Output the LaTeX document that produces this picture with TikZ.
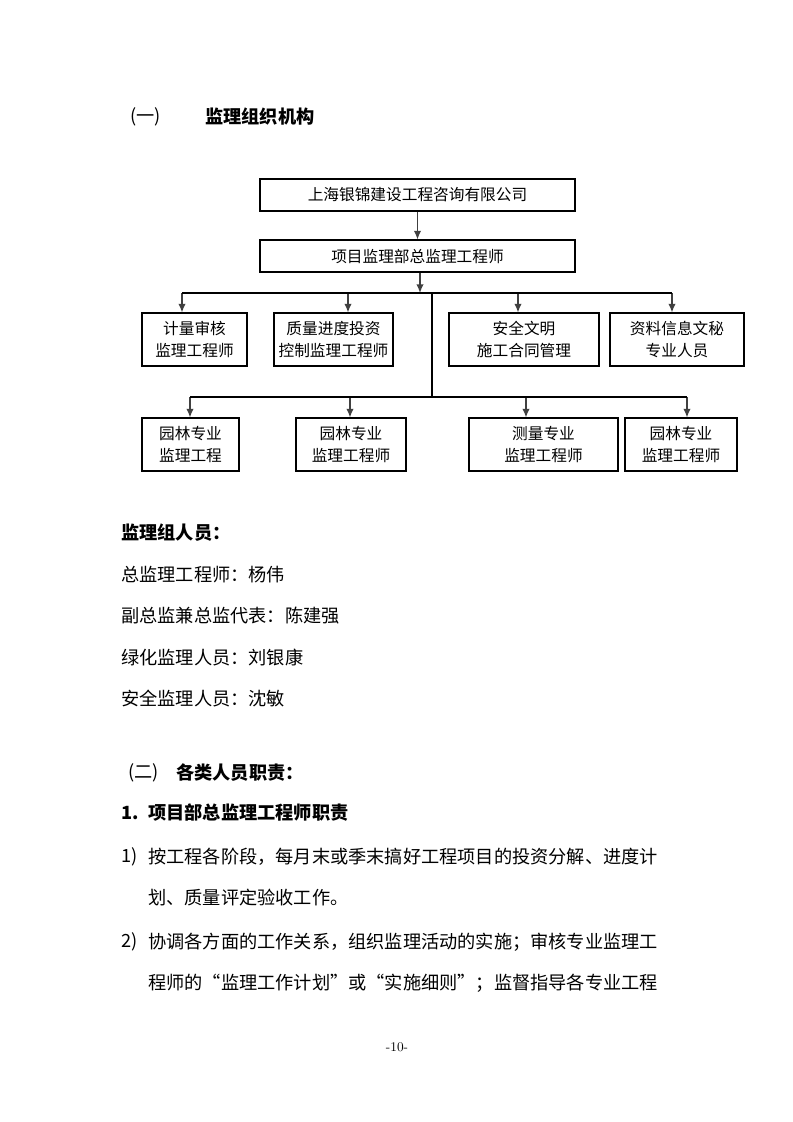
\documentclass[tikz,border=0pt]{standalone}
\usepackage{fontspec}
\newfontfamily\cjk{Noto Sans CJK SC}
\usepackage{tikz}
\usetikzlibrary{calc}
\usetikzlibrary{arrows.meta}

\tikzset{
  kasten/.style={draw, line width=0.8pt, inner sep=0pt, align=center, font=\cjk\fontsize{11.8}{16.5}\selectfont},
  groesse/.style 2 args={minimum width=#1*0.2646mm, minimum height=#2*0.2646mm},
  pfeil/.style={draw=black!75, line width=1.1pt, -{Latex[length=2.3mm,width=2mm]}},
  linie/.style={line width=0.8pt},
  zeile/.style={anchor=west, inner sep=0pt, font=\cjk\fontsize{13.7}{16}\selectfont},
}

\begin{document}
\begin{tikzpicture}[x=0.2646mm,y=-0.2646mm]
\useasboundingbox (0,0) rectangle (793,1122);									% Seite

\node[zeile] (nr1) at (130,117) {(一)};
\node[zeile] (tit1) at (205,117) {\bfseries 监理组织机构};							% Ueberschrift 1

\node[kasten, groesse={315}{32}] (firma) at (417.5,195) {上海银锦建设工程咨询有限公司};
\node[kasten, groesse={315}{32}] (zongjian) at (417.5,256) {项目监理部总监理工程师};

\node[kasten, groesse={105}{53}] (jiliang) at (194.5,339.5) {计量审核\\监理工程师};		% Reihe 1
\node[kasten, groesse={119}{53}] (zhiliang) at (333.5,339.5) {质量进度投资\\控制监理工程师};
\node[kasten, groesse={150}{53}] (anquan) at (524,339.5) {安全文明\\施工合同管理};
\node[kasten, groesse={134}{53}] (ziliao) at (677,339.5) {资料信息文秘\\专业人员};

\node[kasten, groesse={97}{53}] (yuanlin1) at (190.5,444.5) {园林专业\\监理工程};		% Reihe 2
\node[kasten, groesse={110}{53}] (yuanlin2) at (351,444.5) {园林专业\\监理工程师};
\node[kasten, groesse={149}{53}] (celiang) at (543.5,444.5) {测量专业\\监理工程师};
\node[kasten, groesse={112}{53}] (yuanlin3) at (681,444.5) {园林专业\\监理工程师};

\draw[pfeil] (firma) -- (zongjian);
\coordinate (s1) at (420,293);													% Schiene 1
\draw[pfeil] (zongjian.south -| s1) -- (s1);
\foreach \x/\ziel in {182/jiliang, 348/zhiliang, 518/anquan, 672/ziliao}
  {\coordinate (a-\ziel) at (\x,293);
   \draw[pfeil] (a-\ziel) -- (a-\ziel |- \ziel.north);}
\draw[linie] (a-jiliang) -- (a-ziliao);

\coordinate (t1) at (432,293);
\coordinate (t2) at (432,397);
\draw[linie] (t1) -- (t2);														% Stamm nach unten
\foreach \x/\ziel in {190/yuanlin1, 350/yuanlin2, 526/celiang, 687/yuanlin3}
  {\coordinate (a-\ziel) at (\x,397);
   \draw[pfeil] (a-\ziel) -- (a-\ziel |- \ziel.north);}
\draw[linie] (a-yuanlin1) -- (a-yuanlin3);										% Schiene 2

\node[zeile] (renyuan) at (121,533) {\bfseries 监理组人员：};
\node[zeile] (p1) at (121,575) {总监理工程师：杨伟};
\node[zeile] (p2) at (121,616) {副总监兼总监代表：陈建强};
\node[zeile] (p3) at (121,658) {绿化监理人员：刘银康};
\node[zeile] (p4) at (121,699) {安全监理人员：沈敏};

\node[zeile] (tit2) at (128,773) {(二)};											% Ueberschrift 2
\node[zeile] (tit2t) at (176,773) {\bfseries 各类人员职责：};
\node[zeile] (n1) at (121,813) {\bfseries 1.};
\node[zeile] (n1t) at (148,813) {\bfseries 项目部总监理工程师职责};
\node[zeile] (i1) at (121,857) {1)};
\node[zeile] (i1a) at (148,857) {按工程各阶段，每月末或季末搞好工程项目的投资分解、进度计};
\node[zeile] (i1b) at (148,898) {划、质量评定验收工作。};
\node[zeile] (i2) at (121,942) {2)};
\node[zeile] (i2a) at (148,942) {协调各方面的工作关系，组织监理活动的实施；审核专业监理工};
\node[zeile] (i2b) at (148,983) {程师的“监理工作计划”或“实施细则”；监督指导各专业工程};

\node[font=\fontsize{10}{11}\selectfont] (seite) at (397,1047) {-10-};				% Seitenzahl
\end{tikzpicture}
\end{document}
